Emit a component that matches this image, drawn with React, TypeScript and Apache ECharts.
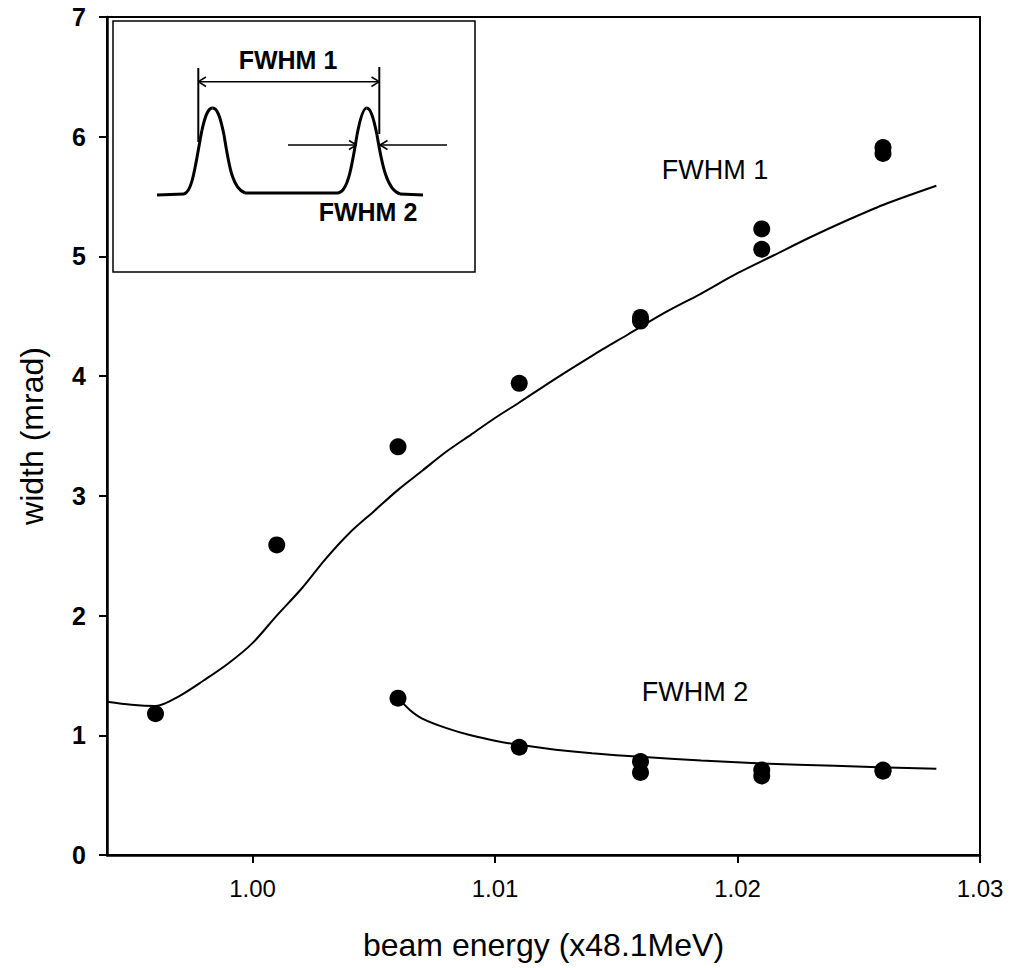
import React, { useEffect, useRef } from "react";
import * as echarts from "echarts";

// ---- data ----
const xTicks = [1.0, 1.01, 1.02, 1.03];
const yTicks = [0, 1, 2, 3, 4, 5, 6, 7];

// measured points (FWHM 1)
const fwhm1PtsX = [0.996, 1.001, 1.006, 1.011, 1.016, 1.016, 1.021, 1.021, 1.026, 1.026];
const fwhm1PtsY = [1.18, 2.59, 3.41, 3.94, 4.49, 4.46, 5.23, 5.06, 5.91, 5.86];

// measured points (FWHM 2)
const fwhm2PtsX = [1.006, 1.011, 1.016, 1.016, 1.021, 1.021, 1.026, 1.026];
const fwhm2PtsY = [1.31, 0.9, 0.78, 0.69, 0.71, 0.66, 0.71, 0.7];

// fitted curve (FWHM 1)
const fit1X = [0.994, 0.995, 0.996, 0.997, 0.998, 0.999, 1.0, 1.001, 1.002, 1.003, 1.004, 1.005, 1.006, 1.007, 1.008, 1.009, 1.01, 1.011, 1.0125, 1.014, 1.0155, 1.017, 1.0185, 1.02, 1.0215, 1.023, 1.0245, 1.026, 1.0282];
const fit1Y = [1.28, 1.255, 1.245, 1.33, 1.46, 1.6, 1.77, 2.0, 2.22, 2.47, 2.69, 2.87, 3.05, 3.21, 3.37, 3.51, 3.65, 3.78, 3.98, 4.17, 4.35, 4.53, 4.69, 4.86, 5.01, 5.16, 5.3, 5.43, 5.59];

// fitted curve (FWHM 2)
const fit2X = [1.006, 1.0065, 1.007, 1.008, 1.009, 1.01, 1.011, 1.0125, 1.014, 1.016, 1.0185, 1.021, 1.024, 1.0282];
const fit2Y = [1.31, 1.21, 1.14, 1.06, 1.0, 0.955, 0.92, 0.88, 0.85, 0.82, 0.79, 0.765, 0.745, 0.72];

const xTitle = "beam energy (x48.1MeV)";
const yTitle = "width (mrad)";
const label1 = "FWHM 1";
const label2 = "FWHM 2";

const FONT = "'Liberation Sans', Arial, sans-serif";

const pair = (xs: number[], ys: number[]) => xs.map((x, i) => [x, ys[i]]);

export default function App() {
  const ref = useRef<HTMLDivElement>(null);
  useEffect(() => {
    if (!ref.current) return;
    const chart = echarts.init(ref.current, null, { renderer: "svg" });
    const line = (x1: number, y1: number, x2: number, y2: number, w = 1.5) => ({
      type: "line",
      z: 11,
      shape: { x1, y1, x2, y2 },
      style: { stroke: "#000", lineWidth: w },
    });
    const bez = (x1: number, y1: number, cpx1: number, cpy1: number, cpx2: number, cpy2: number, x2: number, y2: number) => ({
      type: "bezierCurve",
      z: 11,
      shape: { x1, y1, cpx1, cpy1, cpx2, cpy2, x2, y2 },
      style: { stroke: "#000", lineWidth: 3, fill: null },
    });
    chart.setOption({
      animation: false,
      backgroundColor: "#fff",
      grid: {
        left: 107,
        right: 33,
        top: 17,
        bottom: 113,
        show: true,
        borderColor: "#000",
        borderWidth: 2,
        backgroundColor: "transparent",
      },
      xAxis: {
        type: "value",
        min: 0.994,
        max: 1.03,
        name: xTitle,
        nameLocation: "middle",
        nameGap: 74,
        nameTextStyle: { fontFamily: FONT, fontSize: 32, color: "#000" },
        axisLine: { show: true, lineStyle: { color: "#000", width: 2.5 } },
        axisTick: { show: true, customValues: xTicks, length: 8, inside: false, lineStyle: { color: "#000", width: 2 } },
        axisLabel: {
          customValues: xTicks,
          formatter: (v: number) => v.toFixed(2),
          fontFamily: FONT,
          fontSize: 24,
          color: "#000",
          margin: 21,
        },
        splitLine: { show: false },
      },
      yAxis: {
        type: "value",
        min: 0,
        max: 7,
        interval: 1,
        name: yTitle,
        nameLocation: "middle",
        nameGap: 59,
        nameTextStyle: { fontFamily: FONT, fontSize: 32, color: "#000" },
        axisLine: { show: true, lineStyle: { color: "#000", width: 2.5 } },
        axisTick: { show: true, length: 8, lineStyle: { color: "#000", width: 2 } },
        axisLabel: {
          formatter: (v: number) => (yTicks.includes(v) ? String(v) : ""),
          fontFamily: FONT,
          fontSize: 25,
          fontWeight: "bold",
          color: "#000",
          margin: 21,
        },
        splitLine: { show: false },
      },
      series: [
        {
          type: "line",
          data: pair(fit1X, fit1Y),
          smooth: 0.3,
          showSymbol: false,
          lineStyle: { color: "#000", width: 2 },
          silent: true,
        },
        {
          type: "line",
          data: pair(fit2X, fit2Y),
          smooth: 0.3,
          showSymbol: false,
          lineStyle: { color: "#000", width: 2 },
          silent: true,
        },
        {
          type: "scatter",
          data: pair(fwhm1PtsX, fwhm1PtsY),
          symbol: "circle",
          symbolSize: 17,
          itemStyle: { color: "#000", opacity: 1 },
        },
        {
          type: "scatter",
          data: pair(fwhm2PtsX, fwhm2PtsY),
          symbol: "circle",
          symbolSize: 17,
          itemStyle: { color: "#000", opacity: 1 },
        },
      ],
      graphic: [
        {
          type: "rect",
          z: 10,
          shape: { x: 113, y: 21, width: 362, height: 251 },
          style: { fill: "#fff", stroke: "#000", lineWidth: 1.5 },
        },
        // inset peaks
        line(157, 195, 184, 194, 3),
        bez(184, 194, 193, 192, 196, 160, 202, 130),
        bez(202, 130, 206, 112, 209, 108, 212.7, 108),
        bez(212.7, 108, 217, 108, 220, 115, 224, 135),
        bez(224, 135, 229, 165, 232, 188, 245, 193),
        line(245, 193, 338, 193, 3),
        bez(338, 193, 348, 192, 352, 165, 357, 135),
        bez(357, 135, 361, 114, 364, 108, 366.7, 108),
        bez(366.7, 108, 370, 108, 373, 115, 377, 135),
        bez(377, 135, 382, 165, 387, 190, 400, 194),
        line(400, 194, 423, 195, 3),
        // FWHM 1 marker
        line(198.3, 68, 198.3, 142, 2),
        line(379.3, 67, 379.3, 134, 2),
        line(198.3, 81.7, 379.3, 81.7),
        line(198.3, 81.7, 206, 77),
        line(198.3, 81.7, 206, 86.5),
        line(379.3, 81.7, 371.5, 77),
        line(379.3, 81.7, 371.5, 86.5),
        // FWHM 2 marker
        line(288, 145, 356.5, 145),
        line(356.5, 145, 349, 140.5),
        line(356.5, 145, 349, 149.5),
        line(380, 145, 447, 145),
        line(380, 145, 387.5, 140.5),
        line(380, 145, 387.5, 149.5),
        {
          type: "text",
          z: 11,
          x: 288,
          y: 60,
          style: { text: label1, fontFamily: FONT, fontSize: 25, fontWeight: "bold", fill: "#000", align: "center", verticalAlign: "middle" },
        },
        {
          type: "text",
          z: 11,
          x: 368,
          y: 212,
          style: { text: label2, fontFamily: FONT, fontSize: 25, fontWeight: "bold", fill: "#000", align: "center", verticalAlign: "middle" },
        },
        {
          type: "text",
          z: 11,
          x: 715,
          y: 170,
          style: { text: label1, fontFamily: FONT, fontSize: 27, fill: "#000", align: "center", verticalAlign: "middle" },
        },
        {
          type: "text",
          z: 11,
          x: 695,
          y: 692,
          style: { text: label2, fontFamily: FONT, fontSize: 27, fill: "#000", align: "center", verticalAlign: "middle" },
        },
      ],
    });
    return () => chart.dispose();
  }, []);
  return <div ref={ref} style={{ position: "absolute", left: 0, top: 0, width: 1013, height: 968 }} />;
}
